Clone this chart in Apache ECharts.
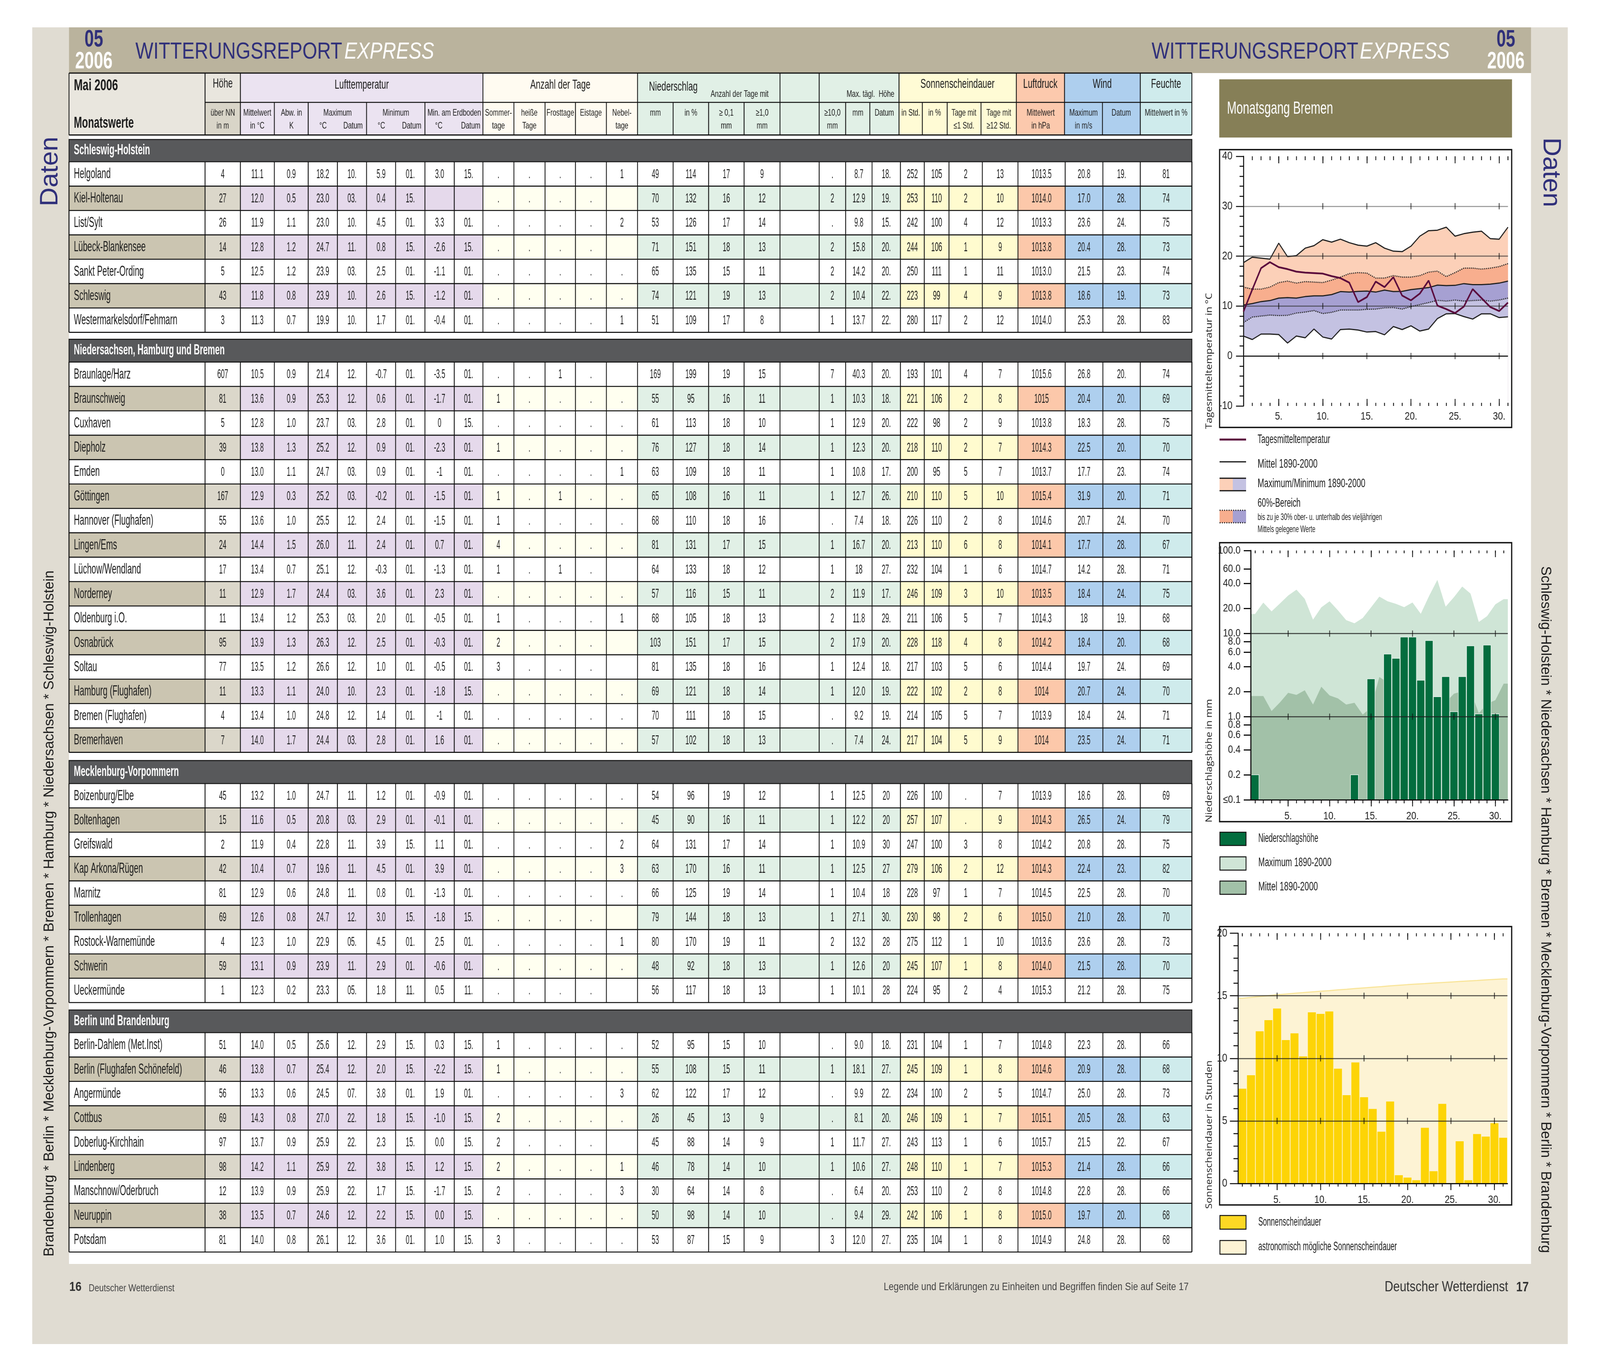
<!DOCTYPE html>
<html><head><meta charset="utf-8">
<style>html,body{margin:0;padding:0;background:#fff;overflow:hidden;width:100%;height:100%}#c{position:absolute;left:0;top:0;width:4963px;height:3509px;transform-origin:0 0}</style>
<script src="https://cdn.jsdelivr.net/npm/echarts@6/dist/echarts.min.js"></script>
</head><body><div id="c"></div>
<script>
// ---------- DATA ----------
const days = ['1.','2.','3.','4.','5.','6.','7.','8.','9.','10.','11.','12.','13.','14.','15.','16.','17.','18.','19.','20.','21.','22.','23.','24.','25.','26.','27.','28.','29.','30.','31.'];
const markDays = [5,10,15,20,25,30];

const tempMax = [18.7,19.8,19.6,19.4,22.6,19.9,20.1,21.6,22.1,23.3,22.8,23.4,22.7,22.2,22.0,22.7,21.6,21.0,20.9,22.0,24.0,25.1,25.2,25.8,24.0,24.5,24.8,25.0,23.5,23.4,25.8];
const tempUpper60 = [13.8,13.4,13.4,13.8,14.7,15.0,14.6,14.9,14.8,14.7,15.2,15.8,16.5,16.7,16.6,15.6,15.6,16.1,15.8,15.8,16.1,16.8,17.0,15.9,16.7,17.6,17.6,17.4,17.6,17.9,18.5];
const tempMean = [10.2,10.5,10.9,11.1,11.6,11.7,11.6,11.9,12.05,12.05,12.3,12.9,12.8,12.95,13.0,12.8,13.2,12.9,12.95,13.3,13.5,13.7,14.2,14.1,14.15,14.5,14.3,14.3,14.4,14.6,15.0];
const tempLower60 = [6.7,7.8,8.0,8.2,8.1,8.15,8.6,8.8,9.1,8.5,8.75,9.2,9.2,9.2,9.35,9.4,9.65,9.7,9.4,9.9,10.3,10.7,11.15,11.0,11.2,11.0,11.1,11.2,11.0,11.2,11.6];
const tempMin = [4.0,3.3,4.4,4.4,4.3,2.6,4.0,3.65,5.4,3.8,3.4,5.3,5.4,5.2,4.8,4.9,4.25,5.9,5.3,6.05,5.0,5.4,7.5,8.45,8.5,7.9,7.4,8.45,8.45,7.7,7.85];
const tempDaily = [8.9,13.3,17.6,18.8,17.8,17.4,16.9,16.7,16.6,16.5,16.0,15.6,14.7,10.8,11.8,14.9,13.8,15.8,12.1,11.15,12.5,15.1,10.1,9.4,8.6,9.9,13.4,11.6,9.8,9.0,10.7];

const rainTicks = [0.1,0.2,0.4,0.6,0.8,1,2,4,6,8,10,20,40,60,80,100];
const rainMax = [17.2,23.6,18.5,23,28.7,33.8,26.2,14.7,20.7,24.5,19.1,14.5,13.3,15.4,20.7,27.9,24.5,22.8,20.8,23.7,17.3,28.3,44.3,21.1,27.4,36.8,30.3,13.8,16.2,22.5,26.0];
const rainMean = [1.77,1.77,1.17,1.48,1.94,1.83,2.08,1.40,2.29,1.80,1.66,1.40,1.47,1.06,1.29,3.0,2.58,2.05,1.80,1.48,2.05,1.38,1.0,1.48,1.89,2.02,2.05,1.10,1.43,1.58,2.5];
const rainDaily = [0.2,null,null,null,null,null,null,null,null,null,null,null,0.2,null,2.85,null,5.67,5.04,9.1,9.1,2.75,8.25,1.74,3.04,1.15,3.04,7.13,1.08,7.28,1.08,null];

const sunPossible = [14.8,14.87,14.94,15.01,15.08,15.14,15.2,15.25,15.31,15.36,15.41,15.47,15.52,15.58,15.63,15.68,15.73,15.79,15.84,15.89,15.93,15.97,16.02,16.06,16.1,16.14,16.18,16.22,16.27,16.31,16.35];
const sunDaily = [7.57,8.65,12.16,13.05,13.98,11.46,12.0,10.16,13.68,13.55,13.75,9.17,7.06,9.67,6.89,5.96,4.14,6.55,0.66,0.47,0.26,4.45,0.98,6.36,0,3.37,0.26,3.95,3.75,4.82,3.65];

const sectionTitles = ['Schleswig-Holstein','Niedersachsen, Hamburg und Bremen','Mecklenburg-Vorpommern','Berlin und Brandenburg'];
const stationsSH = ['Helgoland','Kiel-Holtenau','List/Sylt','Lübeck-Blankensee','Sankt Peter-Ording','Schleswig','Westermarkelsdorf/Fehmarn'];
const rowsSH = [
'4 11.1 0.9 18.2 10. 5.9 01. 3.0 15. . . . . 1 49 114 17 9 . 8.7 18. 252 105 2 13 1013.5 20.8 19. 81',
'27 12.0 0.5 23.0 03. 0.4 15. _ _ . . . . _ 70 132 16 12 2 12.9 19. 253 110 2 10 1014.0 17.0 28. 74',
'26 11.9 1.1 23.0 10. 4.5 01. 3.3 01. . . . . 2 53 126 17 14 . 9.8 15. 242 100 4 12 1013.3 23.6 24. 75',
'14 12.8 1.2 24.7 11. 0.8 15. -2.6 15. . . . . _ 71 151 18 13 2 15.8 20. 244 106 1 9 1013.8 20.4 28. 73',
'5 12.5 1.2 23.9 03. 2.5 01. -1.1 01. . . . . . 65 135 15 11 2 14.2 20. 250 111 1 11 1013.0 21.5 23. 74',
'43 11.8 0.8 23.9 10. 2.6 15. -1.2 01. . . . . . 74 121 19 13 2 10.4 22. 223 99 4 9 1013.8 18.6 19. 73',
'3 11.3 0.7 19.9 10. 1.7 01. -0.4 01. . . . . 1 51 109 17 8 1 13.7 22. 280 117 2 12 1014.0 25.3 28. 83'];
const stationsNI = ['Braunlage/Harz','Braunschweig','Cuxhaven','Diepholz','Emden','Göttingen','Hannover (Flughafen)','Lingen/Ems','Lüchow/Wendland','Norderney','Oldenburg i.O.','Osnabrück','Soltau','Hamburg (Flughafen)','Bremen (Flughafen)','Bremerhaven'];
const rowsNI = [
'607 10.5 0.9 21.4 12. -0.7 01. -3.5 01. . . 1 . _ 169 199 19 15 7 40.3 20. 193 101 4 7 1015.6 26.8 20. 74',
'81 13.6 0.9 25.3 12. 0.6 01. -1.7 01. 1 . . . . 55 95 16 11 1 10.3 18. 221 106 2 8 1015 20.4 20. 69',
'5 12.8 1.0 23.7 03. 2.8 01. 0 15. . . . . . 61 113 18 10 1 12.9 20. 222 98 2 9 1013.8 18.3 28. 75',
'39 13.8 1.3 25.2 12. 0.9 01. -2.3 01. 1 . . . . 76 127 18 14 1 12.3 20. 218 110 2 7 1014.3 22.5 20. 70',
'0 13.0 1.1 24.7 03. 0.9 01. -1 01. . . . . 1 63 109 18 11 1 10.8 17. 200 95 5 7 1013.7 17.7 23. 74',
'167 12.9 0.3 25.2 03. -0.2 01. -1.5 01. 1 . 1 . . 65 108 16 11 1 12.7 26. 210 110 5 10 1015.4 31.9 20. 71',
'55 13.6 1.0 25.5 12. 2.4 01. -1.5 01. 1 . . . . 68 110 18 16 . 7.4 18. 226 110 2 8 1014.6 20.7 24. 70',
'24 14.4 1.5 26.0 11. 2.4 01. 0.7 01. 4 . . . . 81 131 17 15 1 16.7 20. 213 110 6 8 1014.1 17.7 28. 67',
'17 13.4 0.7 25.1 12. -0.3 01. -1.3 01. 1 . 1 . _ 64 133 18 12 1 18 27. 232 104 1 6 1014.7 14.2 28. 71',
'11 12.9 1.7 24.4 03. 3.6 01. 2.3 01. . . . . . 57 116 15 11 2 11.9 17. 246 109 3 10 1013.5 18.4 24. 75',
'11 13.4 1.2 25.3 03. 2.0 01. -0.5 01. 1 . . . 1 68 105 18 13 2 11.8 29. 211 106 5 7 1014.3 18 19. 68',
'95 13.9 1.3 26.3 12. 2.5 01. -0.3 01. 2 . . . _ 103 151 17 15 2 17.9 20. 228 118 4 8 1014.2 18.4 20. 68',
'77 13.5 1.2 26.6 12. 1.0 01. -0.5 01. 3 . . . _ 81 135 18 16 1 12.4 18. 217 103 5 6 1014.4 19.7 24. 69',
'11 13.3 1.1 24.0 10. 2.3 01. -1.8 15. . . . . . 69 121 18 14 1 12.0 19. 222 102 2 8 1014 20.7 24. 70',
'4 13.4 1.0 24.8 12. 1.4 01. -1 01. . . . . . 70 111 18 15 . 9.2 19. 214 105 5 7 1013.9 18.4 24. 71',
'7 14.0 1.7 24.4 03. 2.8 01. 1.6 01. . . . . . 57 102 18 13 . 7.4 24. 217 104 5 9 1014 23.5 24. 71'];
const stationsMV = ['Boizenburg/Elbe','Boltenhagen','Greifswald','Kap Arkona/Rügen','Marnitz','Trollenhagen','Rostock-Warnemünde','Schwerin','Ueckermünde'];
const rowsMV = [
'45 13.2 1.0 24.7 11. 1.2 01. -0.9 01. . . . . . 54 96 19 12 1 12.5 20 226 100 . 7 1013.9 18.6 28. 69',
'15 11.6 0.5 20.8 03. 2.9 01. -0.1 01. . . . . . 45 90 16 11 1 12.2 20 257 107 . 9 1014.3 26.5 24. 79',
'2 11.9 0.4 22.8 11. 3.9 15. 1.1 01. . . . . 2 64 131 17 14 1 10.9 30 247 100 3 8 1014.2 20.8 28. 75',
'42 10.4 0.7 19.6 11. 4.5 01. 3.9 01. . . . . 3 63 170 16 11 1 12.5 27 279 106 2 12 1014.3 22.4 23. 82',
'81 12.9 0.6 24.8 11. 0.8 01. -1.3 01. . . . . . 66 125 19 14 1 10.4 18 228 97 1 7 1014.5 22.5 28. 70',
'69 12.6 0.8 24.7 12. 3.0 15. -1.8 15. . . . . _ 79 144 18 13 1 27.1 30. 230 98 2 6 1015.0 21.0 28. 70',
'4 12.3 1.0 22.9 05. 4.5 01. 2.5 01. . . . . 1 80 170 19 11 2 13.2 28 275 112 1 10 1013.6 23.6 28. 73',
'59 13.1 0.9 23.9 11. 2.9 01. -0.6 01. . . . . . 48 92 18 13 1 12.6 20 245 107 1 8 1014.0 21.5 28. 70',
'1 12.3 0.2 23.3 05. 1.8 11. 0.5 11. . . . . _ 56 117 18 13 1 10.1 28 224 95 2 4 1015.3 21.2 28. 75'];
const stationsBB = ['Berlin-Dahlem (Met.Inst)','Berlin (Flughafen Schönefeld)','Angermünde','Cottbus','Doberlug-Kirchhain','Lindenberg','Manschnow/Oderbruch','Neuruppin','Potsdam'];
const rowsBB = [
'51 14.0 0.5 25.6 12. 2.9 15. 0.3 15. 1 . . . . 52 95 15 10 . 9.0 18. 231 104 1 7 1014.8 22.3 28. 66',
'46 13.8 0.7 25.4 12. 2.0 15. -2.2 15. 1 . . . . 55 108 15 11 1 18.1 27. 245 109 1 8 1014.6 20.9 28. 68',
'56 13.3 0.6 24.5 07. 3.8 01. 1.9 01. . . . . 3 62 122 17 12 . 9.9 22. 234 100 2 5 1014.7 25.0 28. 73',
'69 14.3 0.8 27.0 22. 1.8 15. -1.0 15. 2 . . . . 26 45 13 9 . 8.1 20. 246 109 1 7 1015.1 20.5 28. 63',
'97 13.7 0.9 25.9 22. 2.3 15. 0.0 15. 2 . . . _ 45 88 14 9 1 11.7 27. 243 113 1 6 1015.7 21.5 22. 67',
'98 14.2 1.1 25.9 22. 3.8 15. 1.2 15. 2 . . . 1 46 78 14 10 1 10.6 27. 248 110 1 7 1015.3 21.4 28. 66',
'12 13.9 0.9 25.9 22. 1.7 15. -1.7 15. 2 . . . 3 30 64 14 8 . 6.4 20. 253 110 2 8 1014.8 22.8 28. 66',
'38 13.5 0.7 24.6 12. 2.2 15. 0.0 15. . . . . . 50 98 14 10 . 9.4 29. 242 106 1 8 1015.0 19.7 20. 68',
'81 14.0 0.8 26.1 12. 3.6 01. 1.0 15. 3 . . . . 53 87 15 9 3 12.0 27. 235 104 1 8 1014.9 24.8 28. 68'];

// ---------- LAYOUT ----------
const NARROW = "'Liberation Sans Narrow','Liberation Sans',sans-serif";
const ARIAL = "'Liberation Sans',Arial,sans-serif";
const colEdges = [214,636,745.6,851,956,1046.6,1137,1227,1318,1409,1498,1594,1690.6,1785,1881,1977.5,2088,2198,2308,2419.5,2541,2623,2705,2793,2867,2943.6,3047,3157.6,3304,3421,3537,3697];
const subEdges = [214,636,745.6,851,956,1137,1318,1498,1594,1690.6,1785,1881,1977.5,2088,2198,2308,2419.5,2541,2623,2698,2788.6,2861,2938,3043,3152.6,3302,3419.6,3537,3697];
const topEdges = [214,636,745.6,1498,1977.5,2419.5,2541,2788.6,3152.6,3302,3537,3697];
const secLayout = [[357,414,850.6],[868.4,926.6,1925.6],[1946.6,2005.5,2566],[2585,2643,3204.5]];
const cBand = {name:'#cbc5b1',hoehe:'#dbd7ca',temp:'#e5d9eb',tage:'#fffff0',nied:'#e1f0e6',sun:'#fffbcf',druck:'#fcc8aa',wind:'#aecfee',feuchte:'#cfebec'};
const cTop = {name:'#e9e6de',hoehe:'#e9e6de',temp:'#ebe3f1',tage:'#fffbf1',nied:'#e1f0e6',sun:'#fffbd5',druck:'#fcc9ad',wind:'#aecfee',feuchte:'#cfebec'};
const groupOf = c => c===0?'name':c===1?'hoehe':c<=9?'temp':c<=14?'tage':c<=22?'nied':c<=26?'sun':c===27?'druck':c<=29?'wind':'feuchte';
const INK = '#1c1c1c', NAVY = '#2f2f7a';

const ctx2 = document.createElement('canvas').getContext('2d');
const widthOf = (s,font)=>{ctx2.font=font;return ctx2.measureText(s).width;};
const fit = (s,font,w)=>w/widthOf(s,font);

const els = [];
const R=(x,y,w,h,fill,stroke,lw)=>els.push({type:'rect',silent:true,shape:{x,y,width:w,height:h},style:{fill:fill||'transparent',stroke:stroke||null,lineWidth:lw||0}});
const L=(x1,y1,x2,y2,stroke,lw,dash)=>els.push({type:'line',silent:true,shape:{x1,y1,x2,y2},style:{stroke,lineWidth:lw,lineDash:dash||null}});
const T=(s,x,y,font,o)=>{o=o||{};els.push({type:'text',silent:true,x,y,rotation:o.rot||0,scaleX:o.sx||1,z:o.z||0,
  style:{text:s,font,fill:o.fill||INK,align:o.align||'center',verticalAlign:'middle'}});};
const TW=(s,x,y,font,w,o)=>T(s,x,y,font,Object.assign({sx:fit(s,font,w)},o||{}));

// page
R(100,70,4763,3370,'#e0dcd2');
R(214,187,4535,3048,'#ffffff');
R(214,70,4535,117,'#bab39d');

// title bars
const fBig='bold 62px '+NARROW;
TW('05',291,102,fBig,58,{fill:NAVY}); TW('2006',291,158,fBig,116,{fill:'#fff'});
TW('05',4671,102,fBig,58,{fill:NAVY}); TW('2006',4671,158,fBig,116,{fill:'#fff'});
const fTitle='59px '+ARIAL, fTitleI='italic 59px '+ARIAL;
[[420,1068],[3572,4218]].forEach(p=>{
  T('WITTERUNGSREPORT',p[0],134,fTitle,{fill:NAVY,align:'left'});
  T('EXPRESS',p[1],134,fTitleI,{fill:'#fff',align:'left'});
});

// side rails
TW('Daten',156,528,'78px '+ARIAL,178,{fill:NAVY,rot:Math.PI/2,align:'left'});
TW('Daten',4810,352,'78px '+ARIAL,178,{fill:NAVY,rot:-Math.PI/2,align:'left'});
const railFont='44px '+NARROW;
TW('Brandenburg * Berlin * Mecklenburg-Vorpommern * Bremen * Hamburg * Niedersachsen * Schleswig-Holstein',154,3216,railFont,1756,{rot:Math.PI/2,align:'left'});
TW('Schleswig-Holstein * Niedersachsen * Hamburg * Bremen * Mecklenburg-Vorpommern * Berlin * Brandenburg',4793,1449,railFont,1758,{rot:-Math.PI/2,align:'left'});

// footer
T('16',215,3295,'bold 34px '+ARIAL,{align:'left',fill:'#333'});
TW('Deutscher Wetterdienst',275,3298,'25px '+ARIAL,266,{align:'left',fill:'#444'});
TW('Legende und Erklärungen zu Einheiten und Begriffen finden Sie auf Seite 17',2741,3295,'27px '+ARIAL,946,{align:'left',fill:'#444'});
TW('Deutscher Wetterdienst',4295,3295,'36px '+ARIAL,383,{align:'left',fill:'#333'});
T('17',4703,3295,'bold 35px '+ARIAL,{align:'left',fill:'#333'});

// ---------- TABLE ----------
const fNum='34px '+NARROW, sxNum=fit('1013.5',fNum,62);
const fName='36px '+NARROW, sxName=fit('Westermarkelsdorf/Fehmarn',fName,321);
const fSec='bold 36px '+NARROW, sxSec=fit(sectionTitles[1],fSec,468);
const fSub='24px '+NARROW, sxSub=fit('Mittelwert',fSub,87);
const fHead='33px '+NARROW, sxHead=fit('Lufttemperatur',fHead,168);
const LW=2.6, Y1=187,Y2=262,Y3=345.5;

// header fills
R(214,Y1,422,Y3-Y1,cTop.name);
R(636,Y1,109.6,Y2-Y1,cTop.hoehe); R(636,Y2,109.6,Y3-Y2,'#d9d5c8');
[['temp',745.6,1498],['tage',1498,1977.5],['nied',1977.5,2788.6],['sun',2788.6,3152.6],['druck',3152.6,3302],['wind',3302,3537],['feuchte',3537,3697]]
 .forEach(a=>R(a[1],Y1,a[2]-a[1],Y3-Y1,cTop[a[0]]));
L(214,Y1,3697,Y1,'#111',3.2); L(636,Y2,3697,Y2,'#111',LW); L(214,Y3,3697,Y3,'#111',3.2);
topEdges.forEach(x=>L(x,Y1,x,Y2,'#111',LW));
subEdges.forEach(x=>L(x,Y2,x,Y3,'#111',LW));
// header texts
TW('Mai 2006',229,220,'bold 41px '+NARROW,137,{align:'left'});
TW('Monatswerte',229,316,'bold 41px '+NARROW,186,{align:'left'});
const H=(s,x,y)=>T(s,x,y,fHead,{sx:sxHead});
H('Höhe',691,215);H('Lufttemperatur',1122,218);H('Anzahl der Tage',1738,218);
T('Niederschlag',2013,223,fHead,{sx:sxHead,align:'left'});
T('Anzahl der Tage mit',2384,241,fSub,{sx:sxSub,align:'right'});
T('Max. tägl.  Höhe',2774,241,fSub,{sx:sxSub,align:'right'});
H('Sonnenscheindauer',2970,216);H('Luftdruck',3227,216);H('Wind',3419,216);H('Feuchte',3617,216);
const subHeads=[['über NN',691,289],['in m',691,322],['Mittelwert',798,289],['in °C',798,322],['Abw. in',904,289],['K',904,322],
['Maximum',1047,289],['°C',1002,322],['Datum',1095,322],['Minimum',1228,289],['°C',1183,322],['Datum',1277,322],['Min. am Erdboden',1409,289],['°C',1361,322],['Datum',1460,322],
['Sommer-',1546,289],['tage',1546,322],['heiße',1642,289],['Tage',1642,322],['Frosttage',1738,289],['Eistage',1833,289],['Nebel-',1929,289],['tage',1929,322],
['mm',2033,289],['in %',2143,289],['≥ 0,1',2253,289],['mm',2253,322],['≥1,0',2364,289],['mm',2364,322],['≥10,0',2582,289],['mm',2582,322],['mm',2661,289],['Datum',2743,289],
['in Std.',2825,289],['in %',2899,289],['Tage mit',2990,289],['≤1 Std.',2990,322],['Tage mit',3098,289],['≥12 Std.',3098,322],['Mittelwert',3228,289],['in hPa',3228,322],
['Maximum',3361,289],['in m/s',3361,322],['Datum',3478,289],['Mittelwert in %',3617,289]];
subHeads.forEach(a=>T(a[0],a[1],a[2],fSub,{sx:sxSub}));

// body
const sections=[[stationsSH,rowsSH],[stationsNI,rowsNI],[stationsMV,rowsMV],[stationsBB,rowsBB]];
sections.forEach((sec,si)=>{
  const [top,bb,end]=secLayout[si], names=sec[0], rows=sec[1], rh=(end-bb)/names.length;
  R(214,top,3697-214,bb-top,'#58595b','#1a1a1a',2.6);
  T(sectionTitles[si],229,(top+bb)/2,fSec,{sx:sxSec,fill:'#fff',align:'left'});
  names.forEach((name,r)=>{
    const y=bb+r*rh;
    if(r%2===1) for(let c=0;c<31;c++) R(colEdges[c],y,colEdges[c+1]-colEdges[c],rh,cBand[groupOf(c)]);
    T(name,229,y+rh/2+1,fName,{sx:sxName,align:'left'});
    rows[r].split(' ').forEach((v,t)=>{
      if(v==='_')return;
      const c=t<=17?t+1:t+2;
      T(v,(colEdges[c]+colEdges[c+1])/2,y+rh/2+1,fNum,{sx:sxNum});
    });
  });
  for(let r=1;r<=names.length;r++) L(214,bb+r*rh,3697,bb+r*rh,'#111',LW);
  colEdges.forEach((x,i)=>L(x,bb,x,end,'#111',(i===0||i===31)?3.2:LW));
});

// ---------- RIGHT PANEL ----------
R(3782,203,908,149,'#867f57');
TW('Monatsgang Bremen',3806,279,'44px '+NARROW,329,{fill:'#fff',align:'left'});
R(3783,383,906,711,'#fff','#111',3.6);
R(3783,1389,906,714,'#fff','#111',3.6);
R(3783,2371.5,906,712.5,'#fff','#111',3.6);
const fAxisT='27px '+"'Open Sans',sans-serif";
TW('Tagesmitteltemperatur in °C',3751,1098,fAxisT,348,{rot:Math.PI/2,align:'left'});
TW('Niederschlagshöhe in mm',3751,2105,fAxisT,316,{rot:Math.PI/2,align:'left'});
TW('Sonnenscheindauer in Stunden',3751,3094,fAxisT,380,{rot:Math.PI/2,align:'left'});
// legends
const fLeg='31px '+NARROW, fLeg2='24px '+NARROW;
L(3783,1125,3865,1125,'#5a0a3c',5);
TW('Tagesmitteltemperatur',3901,1125,fLeg,225,{align:'left'});
L(3783,1182,3865,1182,'#111',3);
TW('Mittel 1890-2000',3901,1188,fLeg,186,{align:'left'});
R(3783,1224,41,32,'#fcd0b8');R(3824,1224,41,32,'#c4c2e2');
L(3783,1224,3865,1224,'#111',3);L(3783,1256,3865,1256,'#111',3);
TW('Maximum/Minimum 1890-2000',3901,1238,fLeg,334,{align:'left'});
R(3783,1306,41,32,'#f8ae8e');R(3824,1306,41,32,'#a6a0d2');
L(3783,1306,3865,1306,'#111',3,[3,4]);L(3783,1338,3865,1338,'#111',3,[3,4]);
TW('60%-Bereich',3901,1288,fLeg,133,{align:'left'});
TW('bis zu je 30% ober- u. unterhalb des vieljährigen',3901,1324,fLeg2,386,{align:'left'});
TW('Mittels gelegene Werte',3901,1355,fLeg2,179,{align:'left'});
[[2130,'#036d3e','Niederschlagshöhe',2146,186],[2193,'#cfe5d6','Maximum 1890-2000',2208,227],[2255,'#a2c1a8','Mittel 1890-2000',2270,185]].forEach(a=>{
  R(3784,a[0],81,34,a[1],'#111',2.6); TW(a[2],3903,a[3],fLeg,a[4],{align:'left'});});
[[3111,'#fdd824','Sonnenscheindauer',3128,195],[3175,'#fdf3d4','astronomisch mögliche Sonnenscheindauer',3191,430]].forEach(a=>{
  R(3784,a[0],81,35,a[1],'#111',2.6); TW(a[2],3903,a[3],fLeg,a[4],{align:'left'});});

// ---------- CHARTS ----------
const grids=[],xAxes=[],yAxes=[],series=[];
const every5=i=>(i+1)%5===0;
const blackLine={color:'#111',width:3};
const tickStyle={color:'#111',width:2.6};
function dayAxes(g,boundaryGap,c){
  const base=xAxes.length;
  const mk=(pos,len,inside,iv,labels,showLine)=>({type:'category',gridIndex:g,data:days,boundaryGap,position:pos,z:3,
    axisLine:{show:!!showLine,onZero:false,lineStyle:blackLine},
    axisTick:{show:true,alignWithLabel:true,interval:iv,inside,length:len,lineStyle:tickStyle},
    splitLine:{show:false},
    axisLabel:labels?{show:true,interval:every5,margin:c.margin,fontFamily:NARROW,fontSize:28,color:'#222'}:{show:false}});
  xAxes.push(mk('bottom',c.bottomMinor,c.bottomInside,0,true,c.bottomLine));
  xAxes.push(mk('bottom',c.bottomMajor,c.bottomInside,every5,false,false));
  xAxes.push(mk('top',c.topMinor,true,0,false,false));
  xAxes.push(mk('top',c.topMajor,true,every5,false,false));
  return base;
}
const yLabel=m=>({show:true,margin:m,fontFamily:NARROW,fontSize:29,color:'#222',showMinLabel:true,showMaxLabel:true,hideOverlap:false});
function crosses(g,xi,yi,vals){
  const d=[];vals.forEach(v=>markDays.forEach(m=>d.push([m-1,v])));
  series.push({type:'scatter',name:'ticks',xAxisIndex:xi,yAxisIndex:yi,data:d,symbol:'rect',symbolSize:[2.6,16],itemStyle:{color:'#111'},silent:true,z:4,animation:false});
}
function area(name,data,fill,xi,yi,line){
  series.push({type:'line',name,xAxisIndex:xi,yAxisIndex:yi,data,symbol:'none',silent:true,z:2,animation:false,
    lineStyle:line||{width:0},areaStyle:{color:fill,opacity:1,origin:'start'}});
}
const withEdges=a=>[[0.5,a[0]],...a.map((v,i)=>[i+1,v]),[31.5,a[a.length-1]]];
function edgeAxis(g){xAxes.push({type:'value',gridIndex:g,min:0.5,max:31.5,show:false});return xAxes.length-1;}

// chart 1: temperature
grids.push({left:3857,top:400,width:820.5,height:639});
{ const xi=dayAxes(0,false,{margin:13,bottomMinor:8,bottomMajor:18,bottomInside:true,topMinor:10,topMajor:18,bottomLine:false});
  const yi=yAxes.length;
  yAxes.push({type:'value',gridIndex:0,min:-10,max:40,interval:10,z:3,axisLine:{show:true,onZero:false,lineStyle:blackLine},
    axisTick:{show:true,length:23,lineStyle:tickStyle},minorTick:{show:true,splitNumber:5,length:12,lineStyle:tickStyle},
    splitLine:{show:true,showMinLine:false,showMaxLine:false,lineStyle:{width:3,color:['#222','rgba(50,50,50,.62)','rgba(50,50,50,.62)','rgba(50,50,50,.45)']}},
    minorSplitLine:{show:false},axisLabel:yLabel(34)});
  const solid={color:'#222',width:3}, dot={color:'#222',width:3,type:'dotted'};
  area('Maximum 1890-2000',tempMax,'#fcd0b8',xi,yi,solid);
  area('Oberes 60%',tempUpper60,'#f8ae8e',xi,yi,dot);
  area('Mittel 1890-2000',tempMean,'#a6a0d2',xi,yi,solid);
  area('Unteres 60%',tempLower60,'#c4c2e2',xi,yi,dot);
  area('Minimum 1890-2000',tempMin,'#ffffff',xi,yi,solid);
  series.push({type:'line',name:'Tagesmitteltemperatur',xAxisIndex:xi,yAxisIndex:yi,data:tempDaily,symbol:'none',silent:true,z:5,animation:false,lineStyle:{color:'#5a0a3c',width:4.5}});
  crosses(0,xi,yi,[30,20,10,0]);
}
// chart 2: precipitation (log)
grids.push({left:3880,top:1409,width:797,height:638});
{ const xi=dayAxes(1,true,{margin:28,bottomMinor:9,bottomMajor:17,bottomInside:false,topMinor:7,topMajor:17,bottomLine:true});
  const ve=edgeAxis(1);
  const yi=yAxes.length;
  yAxes.push({type:'log',logBase:10,gridIndex:1,min:0.1,max:100,z:3,axisLine:{show:true,onZero:false,lineStyle:{color:'#111',width:3.5}},
    axisTick:{show:true,length:22,customValues:rainTicks,lineStyle:{color:'#111',width:3}},minorTick:{show:false},
    splitLine:{show:false},minorSplitLine:{show:false},
    axisLabel:Object.assign(yLabel(32),{fontSize:28,customValues:rainTicks,formatter:v=>v<=0.1?'≤0.1':Number(v).toFixed(1)})});
  yAxes.push({type:'log',logBase:10,gridIndex:1,min:0.1,max:100,z:3,axisLine:{show:false},axisTick:{show:false},minorTick:{show:false},axisLabel:{show:false},
    splitLine:{show:true,showMinLine:false,showMaxLine:false,lineStyle:{color:'rgba(30,30,30,.72)',width:3}},minorSplitLine:{show:false}});
  area('Maximum 1890-2000',withEdges(rainMax),'#cfe5d6',ve,yi);
  area('Mittel 1890-2000',withEdges(rainMean),'#a2c1a8',ve,yi);
  // bars must rise from the axis floor: log-axis bar series start at 1, so a custom series draws them through the same scales
  series.push({type:'custom',name:'Niederschlagshöhe',xAxisIndex:xi,yAxisIndex:yi,silent:true,z:2,animation:false,
    data:rainDaily.map((v,i)=>[i,v]).filter(d=>d[1]!=null),encode:{x:0,y:1},
    renderItem:(p,api)=>{
      const top=api.coord([api.value(0),api.value(1)]), base=api.coord([api.value(0),0.1]);
      const w=api.size([1,1])[0]*0.94;
      return {type:'rect',shape:{x:top[0]-w/2,y:top[1],width:w,height:base[1]-top[1]},style:{fill:'#036d3e',stroke:'#e8f2ec',lineWidth:1.5}};
    }});
  crosses(1,xi,yi,[10,1]);
}
// chart 3: sunshine
grids.push({left:3840,top:2388.5,width:836,height:640.5});
{ const xi=dayAxes(2,true,{margin:28,bottomMinor:8,bottomMajor:17,bottomInside:false,topMinor:8,topMajor:17,bottomLine:true});
  const ve=edgeAxis(2);
  const yi=yAxes.length;
  yAxes.push({type:'value',gridIndex:2,min:0,max:20,interval:5,z:3,axisLine:{show:true,onZero:false,lineStyle:blackLine},
    axisTick:{show:true,length:25,lineStyle:tickStyle},minorTick:{show:true,splitNumber:5,length:14,lineStyle:tickStyle},
    splitLine:{show:true,showMinLine:false,showMaxLine:false,lineStyle:{width:3,color:'rgba(30,30,30,.68)'}},minorSplitLine:{show:false},axisLabel:yLabel(33)});
  area('astronomisch mögliche Sonnenscheindauer',withEdges(sunPossible),'#fdf3d4',ve,yi,{color:'#f9e59b',width:3});
  series.push({type:'bar',name:'Sonnenscheindauer',xAxisIndex:xi,yAxisIndex:yi,data:sunDaily,barCategoryGap:'8%',silent:true,z:2,animation:false,itemStyle:{color:'#fdd406'}});
  crosses(2,xi,yi,[15,10,5]);
}

// The layout is written in 4963x3509 reference units. The window may differ (this sandbox reports 4096x3509),
// so map the layout onto the actual window on each axis; at the nominal size this is the identity.
const box=document.getElementById('c');
const kx=(window.innerWidth||4963)/4963, ky=(window.innerHeight||3509)/3509;
if(Math.abs(kx-1)>1e-3||Math.abs(ky-1)>1e-3) box.style.transform='scale('+kx+','+ky+')';
const chart=echarts.init(box,null,{width:4963,height:3509,renderer:'canvas'});
chart.setOption({animation:false,backgroundColor:'#ffffff',grid:grids,xAxis:xAxes,yAxis:yAxes,series,graphic:{elements:els},tooltip:{show:false}});
</script></body></html>
